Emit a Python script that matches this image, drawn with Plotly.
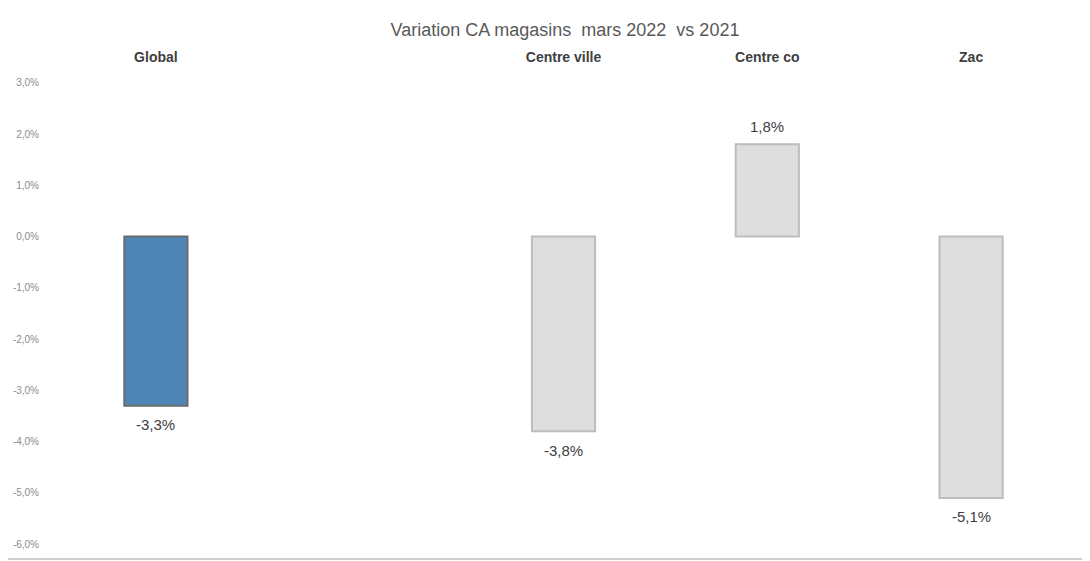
import plotly.graph_objects as go

categories = ["Global", " ", "Centre ville", "Centre co", "Zac"]
variation = [-3.3, None, -3.8, 1.8, -5.1]
bar_colors = ["#4f86b8", "#dedede", "#dedede", "#dedede", "#dedede"]
line_colors = ["#6b6b6b", "#bdbdbd", "#bdbdbd", "#bdbdbd", "#bdbdbd"]
tick_vals = [3, 2, 1, 0, -1, -2, -3, -4, -5, -6]

tick_text = [f"{v:.1f}%".replace(".", ",") for v in tick_vals]

W, H = 1082, 553  # page adds an 8px body margin
L, R, T, B = 46, 17, 62, 17

fig = go.Figure(go.Bar(
    x=categories,
    y=variation,
    width=0.31,
    marker=dict(color=bar_colors, line=dict(color=line_colors, width=2)),
    hoverinfo="x+y",
))

# value labels a bit away from the bar ends, as in the original
for cat, v in zip(categories, variation):
    if v is None:
        continue
    fig.add_annotation(x=cat, y=v, text=f"{v:.1f}%".replace(".", ","),
                       showarrow=False, yshift=18 if v > 0 else -19,
                       font=dict(size=15, color="#404040"))

pw, ph = W - L - R, H - T - B
fig.update_layout(
    width=W, height=H,
    title=dict(text="Variation CA magasins  mars 2022  vs 2021", x=(565 - 8) / W, y=1 - 22 / H,
               xanchor="center", yanchor="middle", xref="container", yref="container",
               font=dict(size=18, color="#595959")),
    font=dict(family="Liberation Sans, Arial", color="#595959"),
    margin=dict(l=L, r=R, t=T, b=B, autoexpand=False),
    paper_bgcolor="white",
    plot_bgcolor="white",
    showlegend=False,
    xaxis=dict(side="top", type="category", categoryorder="array", categoryarray=categories,
               showline=False, showgrid=False, ticks="", zeroline=False, automargin=False,
               ticklabelstandoff=4,
               tickfont=dict(size=14, color="#404040", weight="bold")),
    yaxis=dict(range=[-6, 3.25], tickvals=tick_vals, ticktext=tick_text, automargin=False,
               showgrid=False, zeroline=False, showline=False, ticks="",
               ticklabelstandoff=14, tickfont=dict(size=10, color="#8c8c8c")),
    shapes=[
        dict(type="line", xref="paper", yref="paper", x0=1 + (R - 7) / pw, x1=1 + (R - 7) / pw,
             y0=-(B - 2) / ph, y1=1 + T / ph, line=dict(color="#d0d0d0", width=2)),
        dict(type="line", xref="paper", yref="paper", x0=-L / pw, x1=1 + (R - 7) / pw,
             y0=-(B - 2) / ph, y1=-(B - 2) / ph, line=dict(color="#d0d0d0", width=2)),
    ],
)

fig.write_html("out.html")
